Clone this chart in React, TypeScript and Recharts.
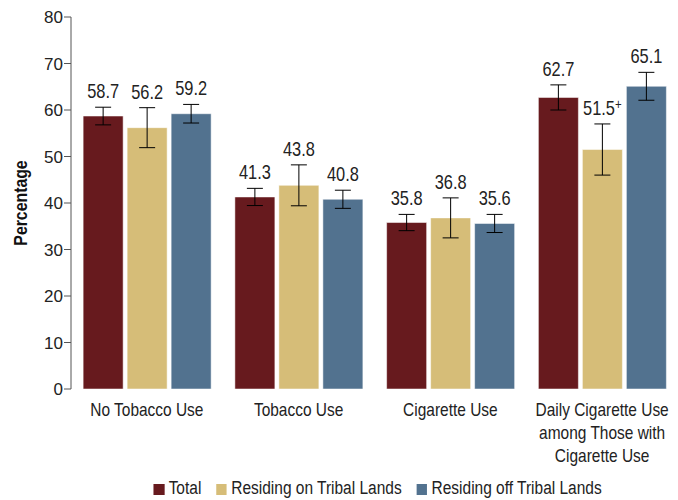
import { BarChart, Bar, XAxis, YAxis, Legend, ErrorBar, LabelList } from 'recharts';

// Categories and series values
const categoryLines = [
  ['No Tobacco Use'],
  ['Tobacco Use'],
  ['Cigarette Use'],
  ['Daily Cigarette Use', 'among Those with', 'Cigarette Use'],
];
const total = [58.7, 41.3, 35.8, 62.7];
const tribal = [56.2, 43.8, 36.8, 51.5];
const offTribal = [59.2, 40.8, 35.6, 65.1];
const totalErr = [1.9, 1.85, 1.75, 2.7];
const tribalErr = [4.3, 4.4, 4.3, 5.5];
const offTribalErr = [2.0, 1.95, 1.95, 3.0];
const tribalNote = ['', '', '', '+'];
const yTicks = [0, 10, 20, 30, 40, 50, 60, 70, 80];
const boundaryTicks = [0, 1, 2, 3, 4];

const FONT = '"Liberation Sans", Arial, sans-serif';
const NARROW = 0.86;

const series = [
  { key: 'total', err: 'totalErr', name: 'Total', color: '#671a1e', errs: totalErr, notes: undefined },
  { key: 'tribal', err: 'tribalErr', name: 'Residing on Tribal Lands', color: '#d6bd78', errs: tribalErr, notes: tribalNote },
  { key: 'offTribal', err: 'offTribalErr', name: 'Residing off Tribal Lands', color: '#52728f', errs: offTribalErr, notes: undefined },
];

const data = categoryLines.map((lines, i) => ({
  name: lines.join(' '),
  idx: i,
  total: total[i],
  tribal: tribal[i],
  offTribal: offTribal[i],
  totalErr: totalErr[i],
  tribalErr: tribalErr[i],
  offTribalErr: offTribalErr[i],
}));

// condensed look: squeeze Liberation Sans horizontally around the anchor point
function CategoryTick({ x, y, payload }: any) {
  const lines = categoryLines[payload.index] ?? [payload.value];
  return (
    <text
      transform={`translate(${x},${y}) scale(${NARROW},1)`}
      textAnchor="middle"
      fill="#222"
      fontSize={18}
      fontFamily={FONT}
    >
      {lines.map((l, k) => (
        <tspan key={k} x={0} dy={k === 0 ? 19 : 23}>
          {l}
        </tspan>
      ))}
    </text>
  );
}

function valueLabel(errs: number[], notes?: string[]) {
  return (props: any) => {
    const { x, y, width, height, value, index } = props;
    const perUnit = height / value;
    const top = y - errs[index] * perUnit;
    const note = notes ? notes[index] : '';
    return (
      <text
        transform={`translate(${x + width / 2},${top - 9}) scale(0.82,1)`}
        textAnchor="middle"
        fill="#222"
        fontSize={20}
        fontFamily={FONT}
      >
        {Number(value).toFixed(1)}
        {note && (
          <tspan fontSize={14} dy={-6}>
            {note}
          </tspan>
        )}
      </text>
    );
  };
}

function AxisTitle({ viewBox }: any) {
  const cy = viewBox.y + viewBox.height / 2;
  return (
    <text
      transform={`translate(27,${cy}) rotate(-90) scale(0.88,1)`}
      textAnchor="middle"
      fill="#111"
      fontSize={18}
      fontWeight="bold"
      fontFamily={FONT}
    >
      Percentage
    </text>
  );
}

function LegendRow() {
  return (
    <div
      style={{
        display: 'flex',
        justifyContent: 'center',
        alignItems: 'center',
        height: 24,
        transform: `scaleX(${NARROW})`,
        fontFamily: FONT,
        fontSize: 18,
        color: '#222',
      }}
    >
      {series.map((s, i) => (
        <div key={s.key} style={{ display: 'flex', alignItems: 'center', marginLeft: i === 0 ? 0 : 17 }}>
          <div style={{ width: 12.8, height: 11, background: s.color, marginRight: 5, marginTop: 2 }} />
          <span>{s.name}</span>
        </div>
      ))}
    </div>
  );
}

export default function App() {
  return (
    <div style={{ position: 'fixed', left: 0, top: 0, background: '#fff' }}>
      <BarChart
        width={678}
        height={500}
        data={data}
        margin={{ top: 17, right: 0, left: 21, bottom: 17 }}
        barCategoryGap="8%"
        barGap={4}
      >
        <XAxis
          xAxisId="bounds"
          type="number"
          dataKey="idx"
          domain={[0, 4]}
          ticks={boundaryTicks}
          tick={false}
          tickSize={7}
          height={0}
          stroke="#555"
          allowDataOverflow
        />
        <XAxis
          xAxisId="cat"
          dataKey="name"
          interval={0}
          tickLine={false}
          axisLine={false}
          tick={<CategoryTick />}
          height={70}
        />
        <YAxis
          domain={[0, 80]}
          ticks={yTicks}
          width={50}
          tickSize={7}
          tickMargin={1}
          stroke="#555"
          tick={{ fill: '#222', fontSize: 17, fontFamily: FONT }}
          label={<AxisTitle />}
        />
        <Legend
          verticalAlign="bottom"
          height={24}
          content={<LegendRow />}
          wrapperStyle={{ left: 74, width: 607, bottom: 0 }}
        />
        {series.map((s) => (
          <Bar
            key={s.key}
            xAxisId="cat"
            dataKey={s.key}
            name={s.name}
            fill={s.color}
            stroke="#fff"
            strokeOpacity={0.5}
            isAnimationActive={false}
          >
            <ErrorBar dataKey={s.err} width={8} stroke="#000" strokeWidth={1} />
            <LabelList dataKey={s.key} content={valueLabel(s.errs, s.notes)} />
          </Bar>
        ))}
      </BarChart>
    </div>
  );
}
